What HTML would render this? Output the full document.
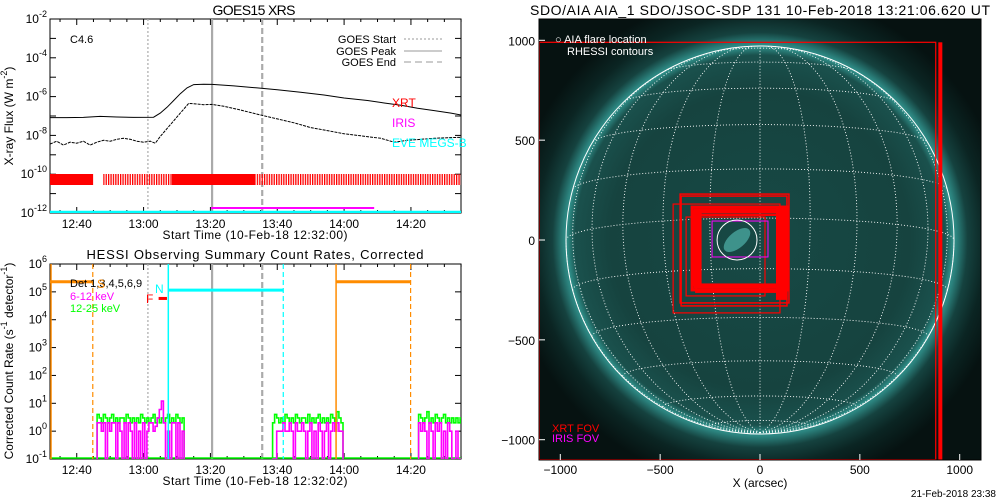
<!DOCTYPE html>
<html><head><meta charset="utf-8"><style>
html,body{margin:0;padding:0;background:#fff;}
svg{display:block;font-family:"Liberation Sans",sans-serif;}
</style></head><body>
<svg id="root" width="1000" height="500" viewBox="0 0 1000 500">
<defs>
<radialGradient id="sunGrad" gradientUnits="userSpaceOnUse" cx="760" cy="240" r="250">
<stop offset="0" stop-color="#17494546"/><stop offset="0" stop-color="#174945"/>
<stop offset="0.6" stop-color="#16433f"/><stop offset="0.74" stop-color="#1a514d"/>
<stop offset="0.772" stop-color="#2f8e88"/><stop offset="0.785" stop-color="#2c8580"/>
<stop offset="0.83" stop-color="#15423f"/><stop offset="0.9" stop-color="#0b2523"/>
<stop offset="1" stop-color="#061211"/>
</radialGradient>
<pattern id="stripes" width="2.4" height="12" patternUnits="userSpaceOnUse"><rect width="1.3" height="12" fill="#f00"/></pattern>
<clipPath id="clipTop"><rect x="50" y="19" width="411" height="194"/></clipPath>
<clipPath id="clipBot"><rect x="50" y="264" width="411" height="195"/></clipPath>
<clipPath id="clipImg"><rect x="539" y="19" width="442" height="441"/></clipPath>
</defs>
<g id="topPanel"></g>
<g id="botPanel"></g>
<g id="imgPanel"></g>
</svg>
<script>
// ---- shared time axis data (minutes after 12:32) ----
const timeTickLabels = ["12:40","13:00","13:20","13:40","14:00","14:20"];
const timeTickMins = [8,28,48,68,88,108];
const goesEvents = [29.3, 48.5, 63.5]; // start, peak, end

// GOES long channel (log10 W/m2)
const goesLongT = [0,5,10,15,20,25,31,33,35,37,39,41,43,46,48.5,55,62,68,75,82,88,95,100,105,110,115,120,123];
const goesLongV = [-7.08,-7.08,-7.07,-7.02,-7.05,-7.07,-7.06,-6.85,-6.55,-6.2,-5.85,-5.55,-5.38,-5.36,-5.37,-5.45,-5.55,-5.65,-5.78,-5.92,-6.07,-6.2,-6.33,-6.45,-6.6,-6.72,-6.85,-6.95];
// GOES short channel
const goesShortT = [0,2,4,6,8,10,12,14,16,18,20,22,24,26,28,30,31.5,33,35,37,39,41.5,44,46,48.5,52,56,60,63.5,68,73,78,83,88,93,99,103,107,111,115,119,123];
const goesShortV = [-8.45,-8.3,-8.5,-8.35,-8.4,-8.3,-8.5,-8.35,-8.25,-8.3,-8.2,-8.15,-8.2,-8.3,-8.35,-8.3,-8.4,-8.05,-7.65,-7.25,-6.85,-6.35,-6.38,-6.42,-6.4,-6.5,-6.65,-6.82,-6.97,-7.15,-7.35,-7.6,-7.75,-7.92,-8.02,-8.15,-8.35,-8.25,-8.2,-8.15,-8.12,-8.1];
// XRT coverage intervals [start,end,solid?1:0]
const xrtIntervals = [[0,12.9,1],[15.9,36.5,0],[36.5,61.4,1],[61.4,123,0]];
const irisInterval = [48.2, 97];

// HESSI
const hessiOrange = [[0,12.8],[85.6,107.9]];
const hessiCyanN = [35.4,69.8];
const hessiOrangeLevel = 2.3e5, hessiCyanLevel = 1.15e5, hessiFLevel = 5.8e4;
const hessiF = [32.5,35];
const segStarts = [14.1,66.6,110.3];
const greenSeg0 = [4,3,2,4,3,2,3,4,2,3,2,3,3,2,4,3,2,3,2,3,2,4,3,2,3,2,3,4,2,3,2,3,2,3,4,2,3,2,4,3,2,3];
const greenSeg1 = [2,4,3,2,3,2,4,3,2,3,2,4,3,2,3,3,2,4,2,3,2,3,4,2,3,2,3,2,4,3,2,5,3,2];
const greenSeg2 = [4,3,2,3,5,2,3,2,4,3,2,3,4,2,3,2,3,2,3,2,3];
const magSeg0 = [2,2,1,2,0.1,2,1,2,2,0.1,2,1,0.1,2,0.1,2,1,0.1,2,0.1,1,0.1,2,0.1,1,2,2,1,1.5,3,6,12,2,0.1,1,0.1,2,2,0.1,2,0.1,1];
const magSeg1 = [0.1,0.1,1,1,1,2,1,1,2,1,0.1,2,1,1,2,1,0.1,1,2,0.1,1,0.1,2,1,0.1,1,2,0.1,1,2,1,2,1,1];
const magSeg2 = [2,1,2,1,0.1,2,1,0.1,2,1,2,0.1,1,0.1,2,1,0.1,0.1,1,0.1,0.1];

// AIA panel boxes (arcsec) [x0,y0,x1,y1,strokeWidth]
const xrtBoxes = [[-1105,990,880,-1100,1.2],[-400,230,145,-315,1.5],[-395,220,135,-330,1.5],[-435,180,100,-365,1.2],[-340,165,135,-250,3],[-325,150,125,-235,3],[-300,140,110,-225,3],[-370,115,25,-280,1.2],[-320,125,90,-260,2]];
const xrtThickBars = [[893,990,913,-1100],[80,165,135,-300],[-340,150,-300,-230]];
const irisBox = [-240,95,40,-85];
const flareCircle = [-115,0,100];
const imgTicks = [-1000,-500,0,500,1000];
const imgTickLabels = ["\u22121000","\u2212500","0","500","1000"];

const NS="http://www.w3.org/2000/svg";
function el(p,t,a){const e=document.createElementNS(NS,t);for(const k in a)e.setAttribute(k,a[k]);p.appendChild(e);return e;}
function txt(p,x,y,s,a){const e=el(p,'text',Object.assign({x:x,y:y,'font-size':12,fill:'#000'},a||{}));e.textContent=s;return e;}
const X=m=>50+m*3.342;
const topG=document.getElementById('topPanel'),botG=document.getElementById('botPanel'),imgG=document.getElementById('imgPanel');
const Yt=lg=>19+(-2-lg)*19.4;
const Yb=v=>264+(6-Math.log10(v))*27.86;

function timeAxis(g,y0,y1,label){
  el(g,'rect',{x:50,y:y0,width:411,height:y1-y0,fill:'none',stroke:'#000','stroke-width':1});
  for(let m=3;m<=123;m+=5){const major=((m-8)%20===0);const L=major?6:3;
    el(g,'line',{x1:X(m),x2:X(m),y1:y1,y2:y1-L,stroke:'#000'});el(g,'line',{x1:X(m),x2:X(m),y1:y0,y2:y0+L,stroke:'#000'});}
  timeTickLabels.forEach((s,i)=>{const t=txt(g,X(timeTickMins[i]),y1+15,s,{'text-anchor':'middle'});
    });
  const xl=txt(g,255,y1+26,label,{'text-anchor':'middle',textLength:185});
  
}
function eventLines(g,y0,y1){
  const st=[['2,2',1.2],['',2.2],['6,3',2.2]];
  goesEvents.forEach((m,i)=>{const l=el(g,'line',{x1:X(m),x2:X(m),y1:y0,y2:y1,stroke:'#aaa','stroke-width':st[i][1],'stroke-dasharray':st[i][0]});
    });
}
function lineFrom(g,T,V,fy,attrs){let d='';T.forEach((t,i)=>{d+=(i?'L':'M')+X(t).toFixed(1)+','+fy(V[i]).toFixed(1);});return el(g,'path',Object.assign({d:d,fill:'none'},attrs));}

// ---------- TOP PANEL ----------
txt(topG,254,15,'GOES15 XRS',{'text-anchor':'middle','font-size':14,textLength:83});
timeAxis(topG,19,213,'Start Time (10-Feb-18 12:32:00)');
for(let e=-2;e>=-12;e--){const y=Yt(e);el(topG,'line',{x1:50,x2:56,y1:y,y2:y,stroke:'#000'});el(topG,'line',{x1:461,x2:455,y1:y,y2:y,stroke:'#000'});
  if(e%2===0){const t=el(topG,'text',{x:47,y:y+4,'font-size':12,'text-anchor':'end'});
    t.innerHTML='10<tspan dy="-6" font-size="9">'+e+'</tspan>';}}
{const t=el(topG,'text',{transform:'translate(13,116) rotate(-90)','text-anchor':'middle','font-size':12});
 t.innerHTML='X-ray Flux (W m<tspan dy="-6" font-size="9">-2</tspan><tspan dy="6">)</tspan>';}
const gt=el(topG,'g',{'clip-path':'url(#clipTop)'});
eventLines(gt,19,213);
xrtIntervals.forEach(iv=>{const r=el(gt,'rect',{x:X(iv[0]),y:174,width:X(iv[1])-X(iv[0]),height:11,fill:iv[2]?'#f00':'url(#stripes)'});
  });
{const l=el(gt,'line',{x1:X(irisInterval[0]),x2:X(irisInterval[1]),y1:208,y2:208,stroke:'#f0f','stroke-width':2});}
{const l=el(gt,'line',{x1:50,x2:461,y1:212,y2:212,stroke:'#0ff','stroke-width':2.5});}
lineFrom(gt,goesLongT,goesLongV,Yt,{stroke:'#000','stroke-width':1});
lineFrom(gt,goesShortT,goesShortV,Yt,{stroke:'#000','stroke-width':1,'stroke-dasharray':'3,1'});
txt(topG,70,43,'C4.6',{'font-size':11});
[['GOES Start','2,2',39],['GOES Peak','',51],['GOES End','7,4',62]].forEach(r=>{
  txt(topG,396,r[2]+4,r[0],{'text-anchor':'end','font-size':11});
  el(topG,'line',{x1:404,x2:442,y1:r[2],y2:r[2],stroke:'#999','stroke-dasharray':r[1]});});
txt(topG,392,107,'XRT',{fill:'#f00','font-size':12});
txt(topG,392,127,'IRIS',{fill:'#f0f','font-size':12});
txt(topG,392,147,'EVE MEGS-B',{fill:'#0ff','font-size':12});

// ---------- BOTTOM PANEL ----------
txt(botG,255,259,'HESSI Observing Summary Count Rates, Corrected',{'text-anchor':'middle','font-size':13,textLength:337});
timeAxis(botG,264,459,'Start Time (10-Feb-18 12:32:02)');
for(let e=6;e>=-1;e--){const y=Yb(Math.pow(10,e));el(botG,'line',{x1:50,x2:56,y1:y,y2:y,stroke:'#000'});el(botG,'line',{x1:461,x2:455,y1:y,y2:y,stroke:'#000'});
  const t=el(botG,'text',{x:47,y:y+4,'font-size':12,'text-anchor':'end'});
  t.innerHTML='10<tspan dy="-6" font-size="9">'+e+'</tspan>';}
{const t=el(botG,'text',{transform:'translate(13,361) rotate(-90)','text-anchor':'middle','font-size':12});
 t.innerHTML='Corrected Count Rate (s<tspan dy="-6" font-size="9">-1</tspan><tspan dy="6"> detector</tspan><tspan dy="-6" font-size="9">-1</tspan><tspan dy="6">)</tspan>';}
const gb=el(botG,'g',{'clip-path':'url(#clipBot)'});
eventLines(gb,264,459);
function stepPath(g,start,vals,color,w){let d='M'+X(start)+','+Yb(0.1);vals.forEach((v,i)=>{const x0=X(start+i*0.62),x1=X(start+(i+1)*0.62);d+='L'+x0.toFixed(1)+','+Yb(v).toFixed(1)+'L'+x1.toFixed(1)+','+Yb(v).toFixed(1);});
  d+='L'+X(start+vals.length*0.62).toFixed(1)+','+Yb(0.1);return el(g,'path',{d:d,fill:'none',stroke:color,'stroke-width':w});}
el(gb,'line',{x1:50,x2:461,y1:458,y2:458,stroke:'#0f0','stroke-width':1.5});
[greenSeg0,greenSeg1,greenSeg2].forEach((s,i)=>{const p=stepPath(gb,segStarts[i],s,'#0f0',1.6);});
[magSeg0,magSeg1,magSeg2].forEach((s,i)=>{const p=stepPath(gb,segStarts[i],s,'#f0f',1.6);});
hessiOrange.forEach((iv,i)=>{
  el(gb,'line',{x1:X(iv[0]),x2:X(iv[1]),y1:Yb(hessiOrangeLevel),y2:Yb(hessiOrangeLevel),stroke:'#ff8c00','stroke-width':3});
  el(gb,'line',{x1:X(iv[0])+(i?0:1),x2:X(iv[0])+(i?0:1),y1:264,y2:459,stroke:'#ff8c00','stroke-width':1.5});
  el(gb,'line',{x1:X(iv[1]),x2:X(iv[1]),y1:264,y2:459,stroke:'#ff8c00','stroke-width':1.2,'stroke-dasharray':'5,3'});});
el(gb,'line',{x1:X(hessiCyanN[0]),x2:X(hessiCyanN[1]),y1:Yb(hessiCyanLevel),y2:Yb(hessiCyanLevel),stroke:'#0ff','stroke-width':3});
el(gb,'line',{x1:X(hessiCyanN[0]),x2:X(hessiCyanN[0]),y1:264,y2:459,stroke:'#0ff','stroke-width':1.5});
el(gb,'line',{x1:X(hessiCyanN[1]),x2:X(hessiCyanN[1]),y1:264,y2:459,stroke:'#0ff','stroke-width':1.2,'stroke-dasharray':'5,3'});
el(gb,'line',{x1:X(hessiF[0]),x2:X(hessiF[1]),y1:Yb(hessiFLevel),y2:Yb(hessiFLevel),stroke:'#f00','stroke-width':3});
txt(botG,70,287,'Det 1,3,4,5,6,9',{'font-size':11});
txt(botG,70,300,'6-12 keV',{'font-size':11,fill:'#f0f'});
txt(botG,70,312,'12-25 keV',{'font-size':11,fill:'#0f0'});
txt(botG,97,288,'S',{'font-size':12,fill:'#ff8c00'});
txt(botG,155,293,'N',{'font-size':12,fill:'#0ff'});
txt(botG,146,303,'F',{'font-size':12,fill:'#f00'});

// ---------- AIA IMAGE ----------
const AX=a=>760+a*0.1997, AY=a=>240-a*0.1997;
txt(imgG,760,15,'SDO/AIA AIA_1 SDO/JSOC-SDP 131 10-Feb-2018 13:21:06.620 UT',{'text-anchor':'middle','font-size':14,textLength:460});
const gi=el(imgG,'g',{'clip-path':'url(#clipImg)'});
el(gi,'rect',{x:539,y:19,width:442,height:441,fill:'#061211'});
el(gi,'circle',{cx:760,cy:240,r:250,fill:'url(#sunGrad)'});
el(gi,'ellipse',{cx:737,cy:240,rx:16,ry:8,fill:'#5fd0c6',opacity:0.55,transform:'rotate(-40 737 240)'});
const R=194,B0=-6.5*Math.PI/180;
function proj(lat,lon){const x=Math.cos(lat)*Math.sin(lon);const y=Math.sin(lat)*Math.cos(B0)-Math.cos(lat)*Math.cos(lon)*Math.sin(B0);
  const z=Math.sin(lat)*Math.sin(B0)+Math.cos(lat)*Math.cos(lon)*Math.cos(B0);return [760+R*x,240-R*y,z];}
const D=Math.PI/180;let gd='';
for(let la=-75;la<=75;la+=15){let pen=false;for(let lo=-90;lo<=90;lo+=3){const p=proj(la*D,lo*D);if(p[2]<0){pen=false;continue;}gd+=(pen?'L':'M')+p[0].toFixed(1)+','+p[1].toFixed(1);pen=true;}}
for(let lo=-90;lo<=90;lo+=15){let pen=false;for(let la=-90;la<=90;la+=3){const p=proj(la*D,lo*D);if(p[2]<0){pen=false;continue;}gd+=(pen?'L':'M')+p[0].toFixed(1)+','+p[1].toFixed(1);pen=true;}}
el(gi,'path',{d:gd,fill:'none',stroke:'#fff','stroke-width':0.9,'stroke-dasharray':'1,2'});
el(gi,'circle',{cx:760,cy:240,r:R,fill:'none',stroke:'#fff','stroke-width':1});
xrtBoxes.forEach(b=>{const r=el(gi,'rect',{x:AX(b[0]),y:AY(b[1]),width:AX(b[2])-AX(b[0]),height:AY(b[3])-AY(b[1]),fill:'none',stroke:'#f00','stroke-width':b[4]});
  });
xrtThickBars.forEach(b=>{el(gi,'rect',{x:AX(b[0]),y:AY(b[1]),width:AX(b[2])-AX(b[0]),height:AY(b[3])-AY(b[1]),fill:'#f00'});});
el(gi,'rect',{x:AX(irisBox[0]),y:AY(irisBox[1]),width:AX(irisBox[2])-AX(irisBox[0]),height:AY(irisBox[3])-AY(irisBox[1]),fill:'none',stroke:'#f0f','stroke-width':1});
el(gi,'circle',{cx:AX(flareCircle[0]),cy:AY(flareCircle[1]),r:flareCircle[2]*0.1997,fill:'none',stroke:'#fff','stroke-width':1});
txt(gi,555,43,'\u25cb AIA flare location',{fill:'#fff','font-size':11});
txt(gi,567,55,'RHESSI contours',{fill:'#fff','font-size':11});
txt(gi,552,432,'XRT FOV',{fill:'#f00','font-size':11});
txt(gi,552,442,'IRIS FOV',{fill:'#f0f','font-size':11});
el(imgG,'rect',{x:539,y:19,width:442,height:441,fill:'none',stroke:'#000'});
imgTicks.forEach((v,i)=>{
  el(imgG,'line',{x1:AX(v),x2:AX(v),y1:460,y2:454,stroke:'#fff'});
  el(imgG,'line',{x1:539,x2:545,y1:AY(v),y2:AY(v),stroke:'#fff'});
  const a=txt(imgG,AX(v),474,imgTickLabels[i],{'text-anchor':'middle'});
  const b=txt(imgG,535,AY(v)+5,imgTickLabels[i],{'text-anchor':'end'});});
txt(imgG,760,487,'X (arcsec)',{'text-anchor':'middle'});
txt(imgG,996,497,'21-Feb-2018 23:38',{'text-anchor':'end','font-size':10});
</script>
</body></html>
